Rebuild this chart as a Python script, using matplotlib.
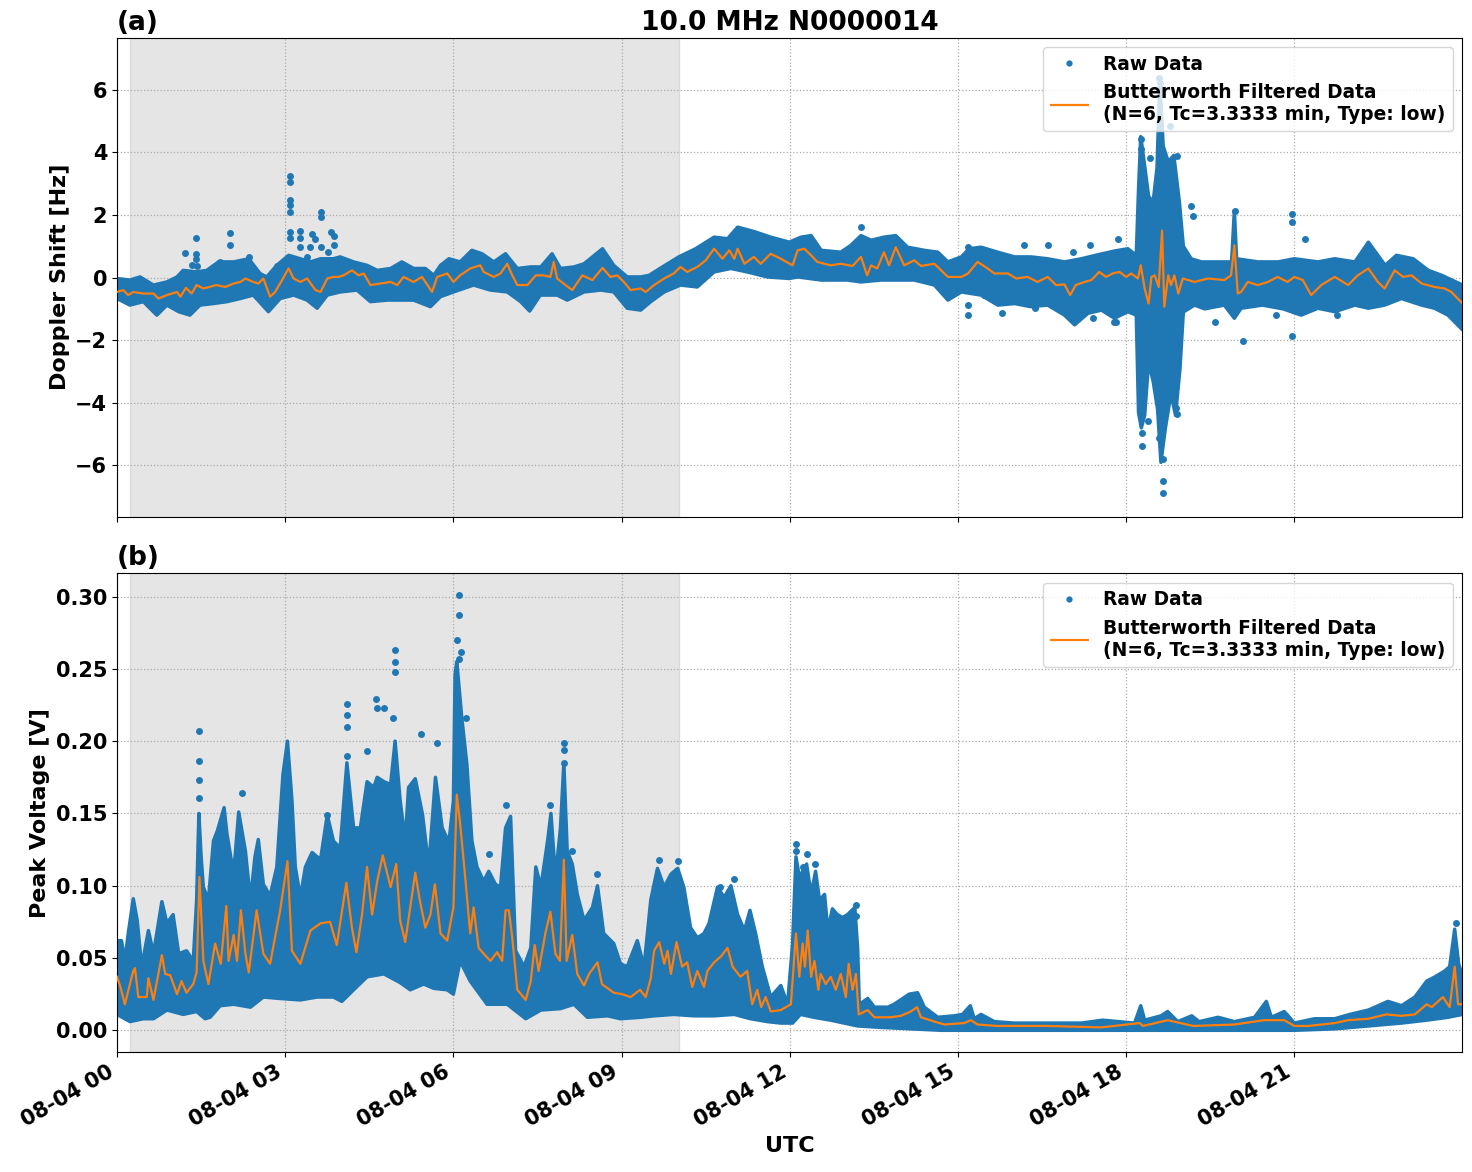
import numpy as np
import pandas as pd
import matplotlib
matplotlib.use('Agg')
import matplotlib.pyplot as plt
import matplotlib.dates as mdates

# ---- data (hours after 08-04 00:00 UTC) ----
# (a) Doppler shift: Butterworth filtered curve
t_a_filt = [0.00, 0.11, 0.20, 0.29, 0.47, 0.65, 0.74, 0.89, 1.07, 1.13, 1.23, 1.33, 1.42, 1.54, 1.65,
            1.77, 1.93, 2.08, 2.20, 2.29, 2.43, 2.52, 2.61, 2.73, 2.82, 2.96, 3.06, 3.15, 3.27, 3.39,
            3.54, 3.63, 3.75, 3.86, 3.95, 4.04, 4.19, 4.31, 4.40, 4.52, 4.70, 4.88, 5.00, 5.11, 5.29,
            5.44, 5.62, 5.71, 5.89, 6.00, 6.12, 6.30, 6.48, 6.54, 6.72, 6.84, 6.96, 7.05, 7.14, 7.32,
            7.47, 7.61, 7.73, 7.79, 7.85, 8.00, 8.12, 8.30, 8.48, 8.66, 8.80, 8.92, 9.04, 9.16, 9.34,
            9.43, 9.58, 9.76, 9.93, 10.05, 10.17, 10.35, 10.50, 10.65, 10.80, 10.92, 11.01, 11.07,
            11.19, 11.36, 11.48, 11.66, 11.84, 12.05, 12.14, 12.26, 12.38, 12.49, 12.73, 12.91, 13.12,
            13.27, 13.38, 13.45, 13.56, 13.68, 13.77, 13.89, 14.04, 14.22, 14.34, 14.58, 14.82, 15.06,
            15.18, 15.35, 15.53, 15.65, 15.89, 16.04, 16.24, 16.42, 16.60, 16.75, 16.90, 17.00, 17.10,
            17.26, 17.38, 17.52, 17.64, 17.76, 17.88, 18.00, 18.09, 18.21, 18.26, 18.33, 18.40, 18.45,
            18.51, 18.58, 18.64, 18.68, 18.75, 18.80, 18.86, 18.93, 19.01, 19.22, 19.46, 19.75, 19.87,
            19.93, 19.99, 20.05, 20.17, 20.35, 20.53, 20.70, 20.88, 21.00, 21.15, 21.30, 21.48, 21.72,
            21.96, 22.13, 22.32, 22.49, 22.61, 22.79, 22.94, 23.09, 23.27, 23.50, 23.68, 23.80, 24.00]
a_filt = [-0.46, -0.40, -0.56, -0.46, -0.51, -0.51, -0.67, -0.56, -0.46, -0.61, -0.33, -0.51, -0.24, -0.35, -0.30,
          -0.24, -0.30, -0.19, -0.14, -0.03, -0.14, -0.19, -0.03, -0.61, -0.46, -0.03, 0.29, -0.03, -0.14, -0.03,
          -0.40, -0.46, -0.03, 0.02, 0.02, 0.07, 0.23, 0.07, 0.13, -0.24, -0.19, -0.14, -0.24, 0.02, -0.14,
          0.02, -0.46, 0.02, 0.13, -0.14, 0.07, 0.29, 0.39, 0.18, 0.02, 0.13, 0.44, 0.07, -0.24, -0.24,
          0.07, 0.07, 0.02, 0.50, -0.03, -0.24, -0.40, 0.07, -0.08, 0.31, 0.02, 0.07, -0.14, -0.40, -0.35,
          -0.46, -0.24, -0.03, 0.13, 0.34, 0.18, 0.34, 0.55, 0.92, 0.60, 0.87, 0.60, 0.92,
          0.44, 0.66, 0.44, 0.76, 0.60, 0.39, 0.87, 0.92, 0.71, 0.50, 0.39, 0.44, 0.37,
          0.66, 0.07, 0.39, 0.29, 0.81, 0.39, 0.97, 0.39, 0.55, 0.37, 0.44, 0.02, 0.02,
          0.13, 0.50, 0.29, 0.13, 0.13, -0.03, 0.02, -0.14, 0.02, -0.24, -0.22, -0.56, -0.24,
          -0.14, -0.08, 0.18, 0.02, 0.13, 0.18, 0.02, 0.13, -0.03, 0.39, -0.35, -0.83, 0.02,
          0.07, -0.30, 1.50, -0.93, 0.07, -0.24, 0.07, -0.51, -0.03, -0.14, -0.03, -0.08, 0.07,
          1.03, -0.51, -0.46, -0.14, -0.24, -0.14, 0.02, -0.14, 0.02, -0.08, -0.56, -0.24, 0.02,
          -0.24, 0.07, 0.29, -0.14, -0.35, 0.23, 0.02, 0.07, -0.19, -0.30, -0.35, -0.46, -0.83]

# (a) upper / lower edge of the dense raw-data cloud
t_a_hi = [0.00, 0.23, 0.41, 0.65, 0.89, 1.07, 1.18, 1.42, 1.60, 1.81, 2.08, 2.35, 2.55, 2.67, 2.85,
          3.06, 3.27, 3.45, 3.63, 3.86, 3.98, 4.22, 4.46, 4.64, 4.88, 5.08, 5.29, 5.50, 5.65, 5.77,
          5.92, 6.12, 6.33, 6.51, 6.72, 6.93, 7.14, 7.38, 7.56, 7.76, 7.91, 8.15, 8.33, 8.66, 8.86,
          9.10, 9.34, 9.49, 9.73, 10.02, 10.32, 10.65, 10.89, 11.07, 11.36, 11.66, 11.99, 12.20, 12.38,
          12.56, 12.91, 13.09, 13.27, 13.45, 13.68, 13.89, 14.10, 14.40, 14.64, 14.82, 15.06, 15.20,
          15.41, 15.71, 16.01, 16.30, 16.60, 16.90, 17.20, 17.55, 17.80, 18.03, 18.18, 18.22, 18.26,
          18.32, 18.40, 18.48, 18.55, 18.60, 18.66, 18.75, 18.85, 18.95, 19.02, 19.16, 19.34, 19.58,
          19.88, 19.93, 19.97, 20.35, 20.71, 21.00, 21.42, 21.72, 22.08, 22.32, 22.62, 22.82, 23.12,
          23.39, 23.63, 24.00]
a_hi = [-0.03, -0.08, 0.02, -0.24, -0.14, 0.02, 0.23, 0.18, 0.23, 0.50, 0.50, 0.60, 0.13, 0.02, 0.39,
        0.71, 0.60, 0.50, 0.60, 0.60, 0.66, 0.50, 0.39, 0.23, 0.29, 0.50, 0.29, 0.29, 0.07, 0.39,
        0.60, 0.50, 0.87, 0.76, 0.50, 0.76, 0.29, 0.34, 0.34, 0.76, 0.29, 0.34, 0.44, 0.92, 0.39,
        0.02, 0.02, 0.07, 0.34, 0.66, 0.92, 1.29, 1.24, 1.61, 1.47, 1.29, 1.13, 1.29, 1.34,
        0.87, 0.81, 1.03, 1.34, 1.19, 1.29, 1.34, 0.97, 0.87, 0.81, 0.50, 0.66, 0.92,
        0.97, 0.81, 0.66, 0.66, 0.60, 0.50, 0.60, 0.75, 0.85, 0.92, 0.71, 2.80, 4.50,
        3.70, 2.60, 2.40, 3.50, 6.30, 4.20, 3.70, 3.90, 2.40, 1.00, 0.60, 0.50, 0.50,
        0.50, 2.14, 0.60, 0.50, 0.50, 0.60, 0.50, 0.60, 0.50, 1.13, 0.39, 0.71, 0.60,
        0.23, 0.07, -0.24]
t_a_lo = [0.00, 0.23, 0.47, 0.71, 0.89, 1.10, 1.30, 1.48, 1.72, 1.96, 2.20, 2.43, 2.70, 2.91, 3.15,
          3.39, 3.57, 3.75, 3.98, 4.28, 4.52, 4.82, 5.05, 5.29, 5.59, 5.77, 6.00, 6.36, 6.66, 6.96,
          7.20, 7.36, 7.55, 7.85, 8.03, 8.33, 8.63, 8.86, 9.10, 9.34, 9.52, 9.76, 10.05, 10.35, 10.65,
          10.95, 11.24, 11.60, 11.99, 12.14, 12.56, 13.03, 13.27, 13.63, 14.22, 14.58, 14.82, 15.06,
          15.41, 15.71, 16.01, 16.30, 16.60, 16.90, 17.08, 17.32, 17.56, 17.79, 18.03, 18.18, 18.22,
          18.27, 18.33, 18.40, 18.48, 18.56, 18.62, 18.70, 18.80, 18.88, 18.96, 19.02, 19.22, 19.40,
          19.75, 19.93, 20.05, 20.43, 20.80, 21.12, 21.42, 21.72, 22.08, 22.32, 22.61, 22.91, 23.27,
          23.50, 23.74, 24.00]
a_lo = [-0.67, -0.88, -0.77, -1.20, -0.88, -1.09, -1.20, -0.88, -0.83, -0.77, -0.67, -0.56, -1.09, -0.67, -0.56,
        -0.72, -0.98, -0.56, -0.46, -0.40, -0.77, -0.72, -0.72, -0.72, -0.93, -0.61, -0.46, -0.24, -0.40, -0.46,
        -0.77, -1.07, -0.56, -0.56, -0.72, -0.46, -0.40, -0.46, -0.98, -1.04, -0.77, -0.46, -0.24, -0.30, 0.18,
        0.29, 0.18, 0.02, -0.03, 0.02, -0.08, -0.08, -0.14, -0.08, -0.08, -0.24, -0.72, -0.46,
        -0.56, -0.88, -0.83, -0.93, -0.88, -1.20, -1.51, -1.14, -1.04, -1.30, -1.09, -1.20, -4.30,
        -4.80, -4.40, -2.70, -3.30, -4.20, -5.90, -4.80, -3.70, -4.40, -2.90, -1.10, -0.88, -1.00,
        -0.88, -1.30, -0.98, -0.88, -1.00, -1.20, -0.98, -1.09, -0.88, -0.98, -0.88, -0.67, -0.88,
        -0.98, -1.20, -1.67]

# (a) isolated raw points outside the cloud
t_a_out = [1.21, 1.41, 1.41, 1.41, 1.42, 1.33, 2.01, 2.01, 1.83, 2.35, 2.86, 3.09, 3.09, 3.08, 3.08,
           3.09, 3.08, 3.08, 3.09, 3.27, 3.26, 3.26, 3.47, 3.54, 3.45, 3.64, 3.64, 3.63, 3.82, 3.87,
           3.87, 3.77, 3.39, 3.98, 13.27, 15.18, 15.18, 15.18, 15.65, 15.79, 16.38, 16.17, 16.60,
           17.05, 17.35, 17.86, 17.82, 17.40, 15.46, 18.27, 18.27, 18.43, 18.60, 18.60, 18.59, 18.79,
           18.91, 19.16, 19.19, 19.95, 20.96, 20.96, 21.19, 18.29, 18.29, 18.65, 18.65, 18.65, 18.59,
           18.39, 18.89, 18.90, 19.58, 20.08, 20.68, 20.95, 21.76, 17.79]
a_out = [0.79, 1.26, 0.76, 0.60, 0.37, 0.41, 1.43, 1.03, 0.50, 0.65, 0.36, 3.25, 3.04, 2.49, 2.32,
         2.10, 1.45, 1.26, 0.60, 1.50, 1.26, 0.97, 1.40, 1.24, 0.97, 2.08, 1.93, 0.97, 1.47, 1.34,
         1.03, 0.81, 0.66, 0.60, 1.61, 0.97, -0.88, -1.20, -0.72, -1.14, -0.96, 1.03, 1.03,
         0.81, 1.03, 1.24, -1.41, -1.30, -0.56, 4.41, 4.10, 3.83, 4.62, 6.21, 6.37, 4.84,
         3.88, 2.30, 1.98, 2.11, 2.03, 1.77, 1.24, -4.95, -5.38, -6.49, -6.89, -5.80, -5.11,
         -4.58, -4.16, -4.37, -1.41, -2.04, -1.20, -1.88, -1.20, -1.41]

# (b) peak voltage: Butterworth filtered curve
t_b_filt = [0.00, 0.06, 0.14, 0.23, 0.29, 0.32, 0.38, 0.53, 0.56, 0.65, 0.80, 0.86, 0.95, 1.07, 1.15,
            1.24, 1.36, 1.42, 1.47, 1.54, 1.63, 1.75, 1.85, 1.95, 1.99, 2.08, 2.14, 2.21, 2.29, 2.35,
            2.49, 2.61, 2.73, 2.91, 3.04, 3.12, 3.27, 3.45, 3.63, 3.80, 3.92, 4.09, 4.19, 4.27, 4.37,
            4.46, 4.55, 4.64, 4.74, 4.88, 4.98, 5.05, 5.14, 5.23, 5.32, 5.40, 5.50, 5.59, 5.67, 5.77,
            5.89, 6.00, 6.06, 6.12, 6.21, 6.30, 6.36, 6.45, 6.54, 6.66, 6.78, 6.87, 6.93, 6.99, 7.05,
            7.14, 7.29, 7.38, 7.45, 7.52, 7.64, 7.73, 7.82, 7.90, 7.97, 8.02, 8.12, 8.21, 8.33, 8.42,
            8.57, 8.65, 8.86, 9.01, 9.16, 9.33, 9.43, 9.52, 9.58, 9.67, 9.76, 9.82, 9.88, 9.98, 10.08,
            10.17, 10.26, 10.35, 10.47, 10.53, 10.65, 10.77, 10.89, 10.98, 11.12, 11.24, 11.33, 11.42,
            11.49, 11.57, 11.66, 11.84, 12.02, 12.11, 12.17, 12.23, 12.27, 12.32, 12.38, 12.44, 12.51,
            12.55, 12.64, 12.73, 12.82, 12.91, 13.00, 13.05, 13.12, 13.18, 13.23, 13.39, 13.51, 13.80,
            13.98, 14.16, 14.27, 14.34, 14.58, 14.76, 15.11, 15.23, 15.35, 15.70, 16.60, 17.55, 18.24,
            18.30, 18.74, 19.20, 19.93, 20.46, 20.82, 21.00, 21.25, 21.72, 21.96, 22.32, 22.64, 22.91,
            23.15, 23.36, 23.45, 23.65, 23.77, 23.86, 23.92, 24.00]
b_filt = [0.037, 0.030, 0.018, 0.032, 0.041, 0.043, 0.023, 0.023, 0.036, 0.021, 0.052, 0.039, 0.038, 0.025, 0.034,
          0.026, 0.032, 0.040, 0.106, 0.048, 0.032, 0.060, 0.046, 0.086, 0.048, 0.066, 0.048, 0.083, 0.053, 0.040,
          0.083, 0.053, 0.046, 0.083, 0.117, 0.055, 0.046, 0.069, 0.074, 0.075, 0.059, 0.102, 0.071, 0.054, 0.080,
          0.113, 0.080, 0.103, 0.121, 0.099, 0.115, 0.076, 0.061, 0.085, 0.109, 0.090, 0.071, 0.080, 0.101, 0.067,
          0.062, 0.085, 0.163, 0.143, 0.106, 0.067, 0.085, 0.057, 0.053, 0.048, 0.054, 0.048, 0.083, 0.083, 0.064,
          0.028, 0.021, 0.034, 0.059, 0.041, 0.067, 0.082, 0.053, 0.048, 0.118, 0.048, 0.066, 0.039, 0.031, 0.039,
          0.047, 0.032, 0.026, 0.025, 0.023, 0.028, 0.023, 0.036, 0.055, 0.061, 0.046, 0.055, 0.039, 0.061, 0.044,
          0.047, 0.030, 0.041, 0.030, 0.041, 0.047, 0.051, 0.057, 0.044, 0.037, 0.041, 0.018, 0.028,
          0.016, 0.023, 0.013, 0.014, 0.018, 0.067, 0.037, 0.060, 0.044, 0.069, 0.037, 0.048, 0.028,
          0.039, 0.032, 0.037, 0.028, 0.039, 0.023, 0.046, 0.028, 0.039, 0.011, 0.014, 0.009, 0.009,
          0.010, 0.013, 0.016, 0.009, 0.006, 0.004, 0.005, 0.007, 0.004, 0.003, 0.003, 0.002, 0.005,
          0.003, 0.007, 0.003, 0.004, 0.007, 0.007, 0.003, 0.003, 0.005, 0.007, 0.008, 0.011, 0.010,
          0.011, 0.018, 0.016, 0.023, 0.016, 0.044, 0.018, 0.018]

# (b) upper / lower edge of the raw-data cloud
t_b_hi = [0.00, 0.08, 0.14, 0.20, 0.29, 0.36, 0.44, 0.56, 0.65, 0.80, 0.89, 1.00, 1.10, 1.24, 1.36,
          1.42, 1.46, 1.50, 1.54, 1.63, 1.72, 1.79, 1.91, 1.96, 2.08, 2.17, 2.29, 2.38, 2.46, 2.52,
          2.61, 2.73, 2.85, 2.96, 3.04, 3.12, 3.18, 3.27, 3.36, 3.48, 3.63, 3.75, 3.86, 3.98, 4.10,
          4.22, 4.34, 4.46, 4.58, 4.64, 4.76, 4.88, 4.96, 5.05, 5.14, 5.20, 5.32, 5.45, 5.56, 5.68,
          5.80, 5.92, 6.00, 6.03, 6.06, 6.15, 6.24, 6.33, 6.42, 6.54, 6.63, 6.75, 6.84, 6.93, 7.02,
          7.11, 7.26, 7.38, 7.47, 7.56, 7.68, 7.74, 7.82, 7.91, 7.97, 8.03, 8.12, 8.21, 8.33, 8.48,
          8.57, 8.68, 8.86, 8.98, 9.10, 9.28, 9.40, 9.52, 9.64, 9.76, 9.88, 10.00, 10.11, 10.23, 10.35,
          10.47, 10.56, 10.71, 10.83, 10.95, 11.07, 11.19, 11.29, 11.39, 11.51, 11.66, 11.84, 11.96,
          12.05, 12.11, 12.17, 12.23, 12.30, 12.38, 12.46, 12.53, 12.62, 12.68, 12.76, 12.85, 12.94,
          13.03, 13.16, 13.21, 13.24, 13.39, 13.51, 13.75, 13.86, 14.13, 14.28, 14.40, 14.64, 14.93,
          15.08, 15.22, 15.29, 15.41, 15.65, 16.00, 17.20, 17.58, 18.15, 18.26, 18.33, 18.62, 18.74,
          18.92, 19.17, 19.30, 19.64, 19.93, 20.29, 20.50, 20.59, 20.82, 21.00, 21.36, 21.72, 21.99,
          22.32, 22.67, 22.91, 23.15, 23.36, 23.51, 23.68, 23.77, 23.86, 23.93, 24.00]
b_hi = [0.062, 0.062, 0.048, 0.067, 0.091, 0.076, 0.044, 0.069, 0.053, 0.089, 0.074, 0.080, 0.053, 0.055, 0.048,
        0.090, 0.150, 0.120, 0.099, 0.090, 0.131, 0.138, 0.154, 0.136, 0.108, 0.151, 0.124, 0.090, 0.120, 0.132,
        0.101, 0.093, 0.113, 0.177, 0.200, 0.159, 0.113, 0.092, 0.113, 0.123, 0.118, 0.149, 0.131, 0.126, 0.185,
        0.140, 0.140, 0.172, 0.168, 0.175, 0.172, 0.170, 0.200, 0.159, 0.131, 0.168, 0.174, 0.149, 0.113, 0.175,
        0.140, 0.130, 0.159, 0.246, 0.255, 0.216, 0.184, 0.131, 0.113, 0.103, 0.110, 0.101, 0.099, 0.140, 0.148,
        0.055, 0.044, 0.057, 0.113, 0.099, 0.131, 0.150, 0.106, 0.140, 0.185, 0.124, 0.115, 0.094, 0.076, 0.085,
        0.100, 0.067, 0.060, 0.046, 0.044, 0.062, 0.044, 0.090, 0.112, 0.099, 0.108, 0.112, 0.099, 0.071, 0.064,
        0.067, 0.074, 0.099, 0.092, 0.100, 0.080, 0.069, 0.083, 0.067, 0.044, 0.023, 0.031, 0.018,
        0.060, 0.120, 0.106, 0.110, 0.115, 0.094, 0.110, 0.090, 0.094, 0.069, 0.084, 0.080, 0.078,
        0.080, 0.085, 0.057, 0.018, 0.022, 0.016, 0.016, 0.018, 0.025, 0.026, 0.016, 0.009, 0.010,
        0.011, 0.017, 0.008, 0.011, 0.006, 0.005, 0.005, 0.007, 0.005, 0.017, 0.007, 0.010, 0.013,
        0.006, 0.010, 0.006, 0.009, 0.006, 0.009, 0.020, 0.009, 0.013, 0.005, 0.008, 0.008, 0.011,
        0.014, 0.020, 0.017, 0.023, 0.034, 0.037, 0.041, 0.044, 0.070, 0.046, 0.037]
t_b_lo = [0.00, 0.23, 0.47, 0.65, 0.89, 1.18, 1.42, 1.57, 1.66, 1.84, 2.08, 2.38, 2.61, 2.91, 3.27,
          3.57, 3.86, 4.01, 4.22, 4.46, 4.76, 5.05, 5.23, 5.47, 5.65, 5.89, 6.00, 6.12, 6.30, 6.60,
          6.96, 7.29, 7.56, 7.91, 8.15, 8.39, 8.75, 8.98, 9.34, 9.58, 9.93, 10.29, 10.65, 11.01, 11.30,
          11.60, 11.84, 12.05, 12.19, 12.43, 12.73, 13.21, 13.63, 14.70, 21.00, 21.72, 22.32, 22.91,
          23.36, 23.74, 24.00]
b_lo = [0.011, 0.006, 0.008, 0.008, 0.014, 0.011, 0.013, 0.008, 0.009, 0.017, 0.018, 0.016, 0.023, 0.022, 0.021,
        0.023, 0.023, 0.020, 0.028, 0.037, 0.039, 0.033, 0.028, 0.032, 0.029, 0.028, 0.025, 0.048, 0.034, 0.018,
        0.018, 0.008, 0.014, 0.015, 0.018, 0.009, 0.010, 0.008, 0.009, 0.010, 0.011, 0.010, 0.010, 0.011, 0.008,
        0.006, 0.005, 0.005, 0.011, 0.009, 0.007, 0.003, 0.002, 0.000, 0.000, 0.001, 0.003, 0.005,
        0.007, 0.009, 0.011]

# (b) isolated raw points above the cloud
t_b_out = [1.46, 1.46, 1.46, 1.46, 2.23, 4.10, 4.10, 4.10, 4.10, 4.62, 4.64, 4.76, 4.96, 4.96, 4.96,
           4.93, 5.43, 5.70, 4.45, 3.74, 6.10, 6.10, 6.06, 6.13, 6.10, 6.22, 6.93, 6.63, 7.97, 7.97,
           7.98, 7.72, 8.12, 8.57, 9.66, 10.00, 11.00, 10.76, 12.11, 12.11, 12.30, 12.45, 12.23,
           13.18, 13.18, 23.88]
b_out = [0.207, 0.186, 0.173, 0.161, 0.164, 0.226, 0.218, 0.210, 0.190, 0.229, 0.223, 0.223, 0.263, 0.255, 0.248,
         0.216, 0.205, 0.199, 0.193, 0.149, 0.301, 0.287, 0.270, 0.262, 0.257, 0.216, 0.156, 0.122, 0.199, 0.194,
         0.185, 0.156, 0.124, 0.108, 0.118, 0.117, 0.105, 0.099, 0.129, 0.124, 0.122, 0.115, 0.113,
         0.087, 0.079, 0.074]

night_start, night_end = 0.23, 10.02   # shaded interval (hours)

day0 = pd.Timestamp('2024-08-04')


def to_time(hours):
    return mdates.date2num(day0 + pd.to_timedelta(np.asarray(hours, dtype=float), unit='h'))


plt.rcParams['font.weight'] = 'bold'
plt.rcParams['axes.labelweight'] = 'bold'
plt.rcParams['axes.titleweight'] = 'bold'

fig, (ax1, ax2) = plt.subplots(2, 1, sharex=True, figsize=(14.72, 11.72), dpi=100)
fig.subplots_adjust(left=0.0795, right=0.9932, top=0.9676, bottom=0.1024, hspace=0.119)

legend_label = 'Butterworth Filtered Data\n(N=6, Tc=3.3333 min, Type: low)'

panels = [
    (ax1, t_a_hi, a_hi, t_a_lo, a_lo, t_a_out, a_out, t_a_filt, a_filt),
    (ax2, t_b_hi, b_hi, t_b_lo, b_lo, t_b_out, b_out, t_b_filt, b_filt),
]
for ax, th, hi, tl, lo, to, vo, tf, vf in panels:
    ax.axvspan(to_time([night_start])[0], to_time([night_end])[0], color='gray', alpha=0.2, zorder=0)
    ax.grid(True, linestyle=':', color='#aaaaaa', linewidth=0.9)
    # dense raw cloud as a filled band
    xs = np.concatenate([to_time(th), to_time(tl)[::-1]])
    ys = np.concatenate([hi, lo[::-1]])
    ax.fill(xs, ys, facecolor='#1f77b4', edgecolor='#1f77b4', linewidth=2.5, joinstyle='round', zorder=2)
    ax.plot(to_time(to), vo, 'o', color='#1f77b4', markersize=5, markeredgewidth=0,
            linestyle='none', label='Raw Data', zorder=2)
    ax.plot(to_time(tf), vf, color='#ff7f0e', linewidth=1.6, label=legend_label, zorder=3)
    ax.legend(loc='upper right', fontsize=13.4, markerscale=0.9)
    ax.tick_params(labelsize=15)

ax1.set_ylim(-7.63, 7.65)
ax2.set_ylim(-0.015, 0.316)
ax1.set_yticks([-6, -4, -2, 0, 2, 4, 6])
ax1.set_yticklabels(['\u22126', '\u22124', '\u22122', '0', '2', '4', '6'])
ax2.set_xlim(to_time([0])[0], to_time([23.99])[0])

ax2.xaxis.set_major_locator(mdates.HourLocator(byhour=range(0, 24, 3)))
ax2.xaxis.set_major_formatter(mdates.DateFormatter('%m-%d %H'))
plt.setp(ax2.get_xticklabels(), rotation=30, ha='right')
plt.setp(ax1.get_xticklabels(), visible=False)

ax1.set_ylabel('Doppler Shift [Hz]', fontsize=16)
ax2.set_ylabel('Peak Voltage [V]', fontsize=16)
ax2.set_xlabel('UTC', fontsize=16)
ax1.set_title('10.0 MHz N0000014', fontsize=19)
ax1.set_title('(a)', loc='left', fontsize=19)
ax2.set_title('(b)', loc='left', fontsize=19)

fig.savefig('out.png', dpi=100)
